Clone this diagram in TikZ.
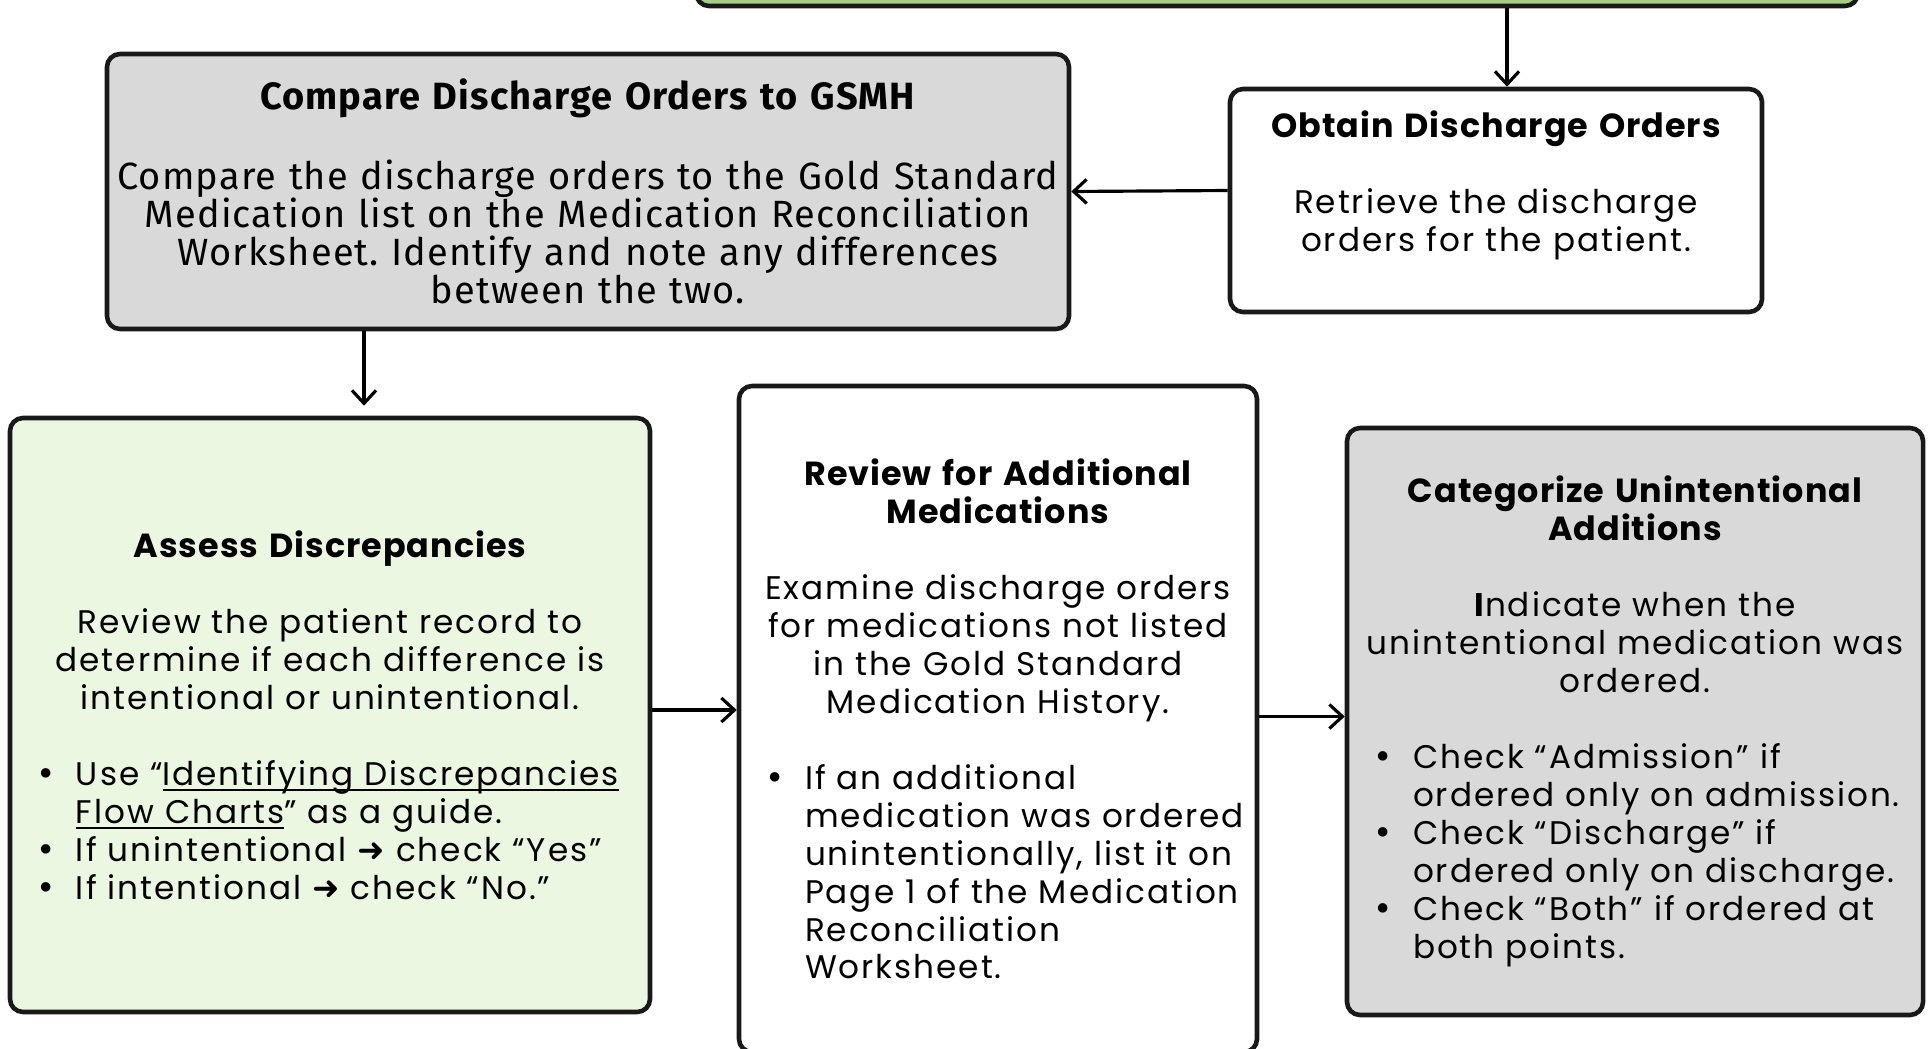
\documentclass[tikz,border=0pt]{standalone}
\usepackage{fontspec}
\usepackage{enumitem}
\setmainfont{Poppins}[LetterSpace=6,BoldFeatures={LetterSpace=3}]
\newfontfamily\narrowfont{Fira Sans}[LetterSpace=3]
\newfontfamily\arrowfont{DejaVu Sans}
\usetikzlibrary{arrows.meta}
\definecolor{topgreen}{RGB}{166,206,134}
\definecolor{palegreen}{RGB}{235,247,225}
\definecolor{boxgray}{RGB}{217,217,217}
\setlist[itemize]{leftmargin=0.61cm,labelsep=0.2cm,topsep=10.8pt,itemsep=0pt,parsep=0pt,partopsep=0pt,label={\arrowfont•}}
\newcommand\linkline[1]{\underline{\smash{#1}}}
\newcommand\steptitle[1]{{\fontsize{9.5}{10.8}\selectfont\bfseries #1}}
\frenchspacing

\begin{document}
\begin{tikzpicture}[
    stepbox/.style={draw=black!90,line width=1.3pt,rounded corners=0.13cm,inner xsep=0.05cm,inner ysep=0pt,align=center,font=\fontsize{9.3}{10.8}\selectfont},
    flow/.style={-{Straight Barb[length=1.3mm,width=2.4mm]},line width=0.9pt}
  ]
  \useasboundingbox (0,0) rectangle (19.29,-10.48);

  \node[stepbox,fill=topgreen,minimum width=11.62cm,minimum height=0.6cm] (top) at (12.77,0.24) {};

  \node[stepbox,fill=white,minimum width=5.32cm,minimum height=2.23cm,text width=5.22cm] (obtain) at (14.96,-2.005)
    {\steptitle{Obtain Discharge Orders}\\[10.8pt]
     Retrieve the discharge\\orders for the patient.\\\mbox{}};

  \node[stepbox,fill=boxgray,minimum width=9.62cm,minimum height=2.75cm,text width=9.52cm,font=\narrowfont\fontsize{10.8}{10.8}\selectfont] (compare) at (5.88,-1.915)
    {\textbf{Compare Discharge Orders to GSMH}\\[10.8pt]
     Compare the discharge orders to the Gold Standard\\
     Medication list on the Medication Reconciliation\\
     Worksheet. Identify and note any differences\\
     between the two.};

  \node[stepbox,fill=palegreen,minimum width=6.40cm,minimum height=5.94cm,text width=6.30cm] (assess) at (3.30,-7.15)
    {\steptitle{Assess Discrepancies}\\[10.8pt]
     Review the patient record to\\
     determine if each difference is\\
     intentional or unintentional.\par
     \raggedright
     \begin{itemize}
       \item Use “\linkline{Identifying Discrepancies}\newline\linkline{Flow Charts}” as a guide.
       \item If unintentional {\arrowfont ➜} check “Yes”
       \item If intentional {\arrowfont ➜} check “No.”
     \end{itemize}};

  \node[stepbox,fill=white,minimum width=5.18cm,minimum height=6.66cm,text width=5.08cm] (review) at (9.98,-7.19)
    {\steptitle{Review for Additional}\\\steptitle{Medications}\\[10.8pt]
     Examine discharge orders\\
     for medications not listed\\
     in the Gold Standard\\
     Medication History.\par
     \raggedright
     \begin{itemize}[rightmargin=-3mm]
       \item If an additional\newline medication was ordered\newline unintentionally, list it on\newline Page 1 of the Medication\newline Reconciliation\newline Worksheet.
     \end{itemize}};

  \node[stepbox,fill=boxgray,minimum width=5.76cm,minimum height=5.87cm,text width=5.66cm] (categorize) at (16.35,-7.215)
    {\steptitle{Categorize Unintentional}\\\steptitle{Additions}\\[10.8pt]
     \textbf{I}ndicate when the\\
     unintentional medication was\\
     ordered.\par
     \raggedright
     \begin{itemize}
       \item Check “Admission” if\newline ordered only on admission.
       \item Check “Discharge” if\newline ordered only on discharge.
       \item Check “Both” if ordered at\newline both points.
     \end{itemize}};

  \coordinate (down1) at ([xshift=1.1mm]obtain.north);
  \coordinate (down2) at ([xshift=3.4mm]assess.north);
  \draw[flow] (down1 |- top.south) -- (down1);
  \draw[flow] ([yshift=1mm]obtain.west) -- (compare.east);
  \draw[flow,shorten >=1mm] (down2 |- compare.south) -- (down2);
  \draw[flow] ([yshift=0.5mm]assess.east) -- ([yshift=0.5mm]assess.east -| review.west);
  \draw[flow] ([yshift=0.5mm]categorize.west -| review.east) -- ([yshift=0.5mm]categorize.west);
\end{tikzpicture}
\end{document}
